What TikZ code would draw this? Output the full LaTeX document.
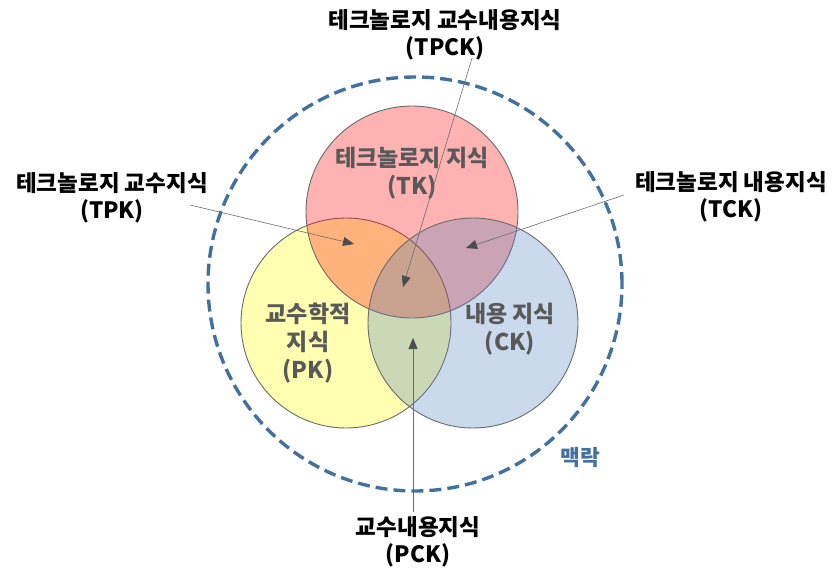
\documentclass[tikz,border=0pt]{standalone}
\usepackage{fontspec}
\setmainfont{Noto Sans CJK KR}
\usetikzlibrary{arrows.meta}
\definecolor{ctxblue}{HTML}{41719C}
\definecolor{tkred}{HTML}{FF0000}
\definecolor{pkyel}{HTML}{FFFF00}
\definecolor{ckblue}{HTML}{4F81BD}
\definecolor{ringgray}{HTML}{6A6A6A}
\definecolor{intext}{HTML}{595959}
\tikzset{
  setcircle/.style={circle, draw=ringgray, line width=0.9pt, minimum size=#1, inner sep=0pt},
  outlabel/.style={font=\bfseries\fontsize{22.5}{27}\selectfont, align=center, text=black, inner sep=0pt},
  inlabel/.style={font=\bfseries\fontsize{23}{28}\selectfont, align=center, text=intext, inner sep=0pt},
  pointer/.style={draw=gray!85!black, line width=0.6pt, -{Triangle[length=11pt,width=9pt,fill=black!70,color=black!70]}},
}
\begin{document}
\begin{tikzpicture}[x=1pt,y=-1pt]
\useasboundingbox (0,0) rectangle (834,572);
% context
\node[circle, draw=ctxblue, line width=3.4pt, dash pattern=on 12pt off 6pt, minimum size=414pt, inner sep=0pt] (ctx) at (415,284) {};
% circles
\node[setcircle=210pt, fill=pkyel, fill opacity=0.3] (pk) at (346,323) {};
\node[setcircle=212pt, fill=tkred, fill opacity=0.3] (tk) at (412,212) {};
\node[setcircle=210pt, fill=ckblue, fill opacity=0.3] (ck) at (473,323) {};
% inner labels
\node[inlabel] (tkl) at (412,173) {테크놀로지 지식\\(TK)};
\node[inlabel] (pkl) at (308,343) {교수학적\\지식\\(PK)};
\node[inlabel] (ckl) at (510,329) {내용 지식\\(CK)};
\node[font=\bfseries\fontsize{21.5}{24}\selectfont, text=ctxblue, inner sep=0pt] (ctxl) at (580,457) {맥락};
% outer labels
\node[outlabel] (tpck) at (445,35) {테크놀로지 교수내용지식\\(TPCK)};
\node[outlabel] (tpk) at (112,198) {테크놀로지 교수지식\\(TPK)};
\node[outlabel] (tck) at (731,197) {테크놀로지 내용지식\\(TCK)};
\node[outlabel] (pck) at (418,542) {교수내용지식\\(PCK)};
% pointer coordinates
\coordinate (tpks) at (190,205); \coordinate (tpke) at (354,244);
\coordinate (tcks) at (624,195); \coordinate (tcke) at (466,248);
\coordinate (tpcks) at (472,58); \coordinate (tpcke) at (403,287);
\coordinate (pcks) at (413,512); \coordinate (pcke) at (413,338);
\draw[pointer] (tpks) -- (tpke);
\draw[pointer] (tcks) -- (tcke);
\draw[pointer] (tpcks) -- (tpcke);
\draw[pointer] (pcks) -- (pcke);
\end{tikzpicture}
\end{document}
